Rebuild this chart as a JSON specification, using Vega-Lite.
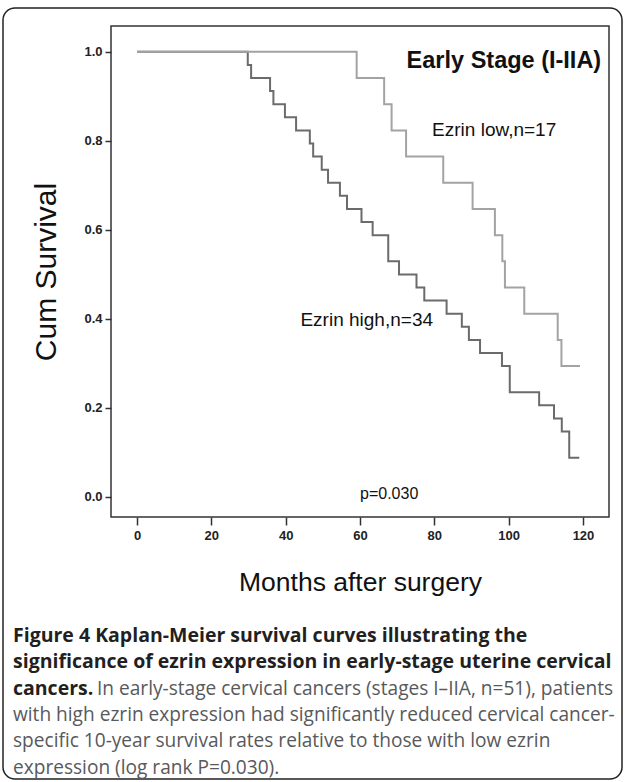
{
  "$schema": "https://vega.github.io/schema/vega-lite/v6.json",
  "width": 498,
  "height": 491,
  "autosize": {"type": "none"},
  "padding": {"left": 111, "top": 26, "right": 16, "bottom": 265},
  "background": "white",
  "config": {
    "view": {"stroke": "#333333", "strokeWidth": 1.5},
    "font": "Liberation Sans"
  },
  "datasets": {
    "km": [
      {"group": "high", "month": 0, "surv": 1},
      {"group": "high", "month": 29.8, "surv": 0.9706},
      {"group": "high", "month": 30.7, "surv": 0.9412},
      {"group": "high", "month": 35.8, "surv": 0.9118},
      {"group": "high", "month": 36.7, "surv": 0.8824},
      {"group": "high", "month": 39.8, "surv": 0.8529},
      {"group": "high", "month": 42.8, "surv": 0.8235},
      {"group": "high", "month": 46.5, "surv": 0.7941},
      {"group": "high", "month": 47.4, "surv": 0.7647},
      {"group": "high", "month": 49.7, "surv": 0.7353},
      {"group": "high", "month": 51.4, "surv": 0.7059},
      {"group": "high", "month": 54.6, "surv": 0.6765},
      {"group": "high", "month": 56.5, "surv": 0.6471},
      {"group": "high", "month": 60.4, "surv": 0.6176},
      {"group": "high", "month": 63.4, "surv": 0.5882},
      {"group": "high", "month": 67.6, "surv": 0.5294},
      {"group": "high", "month": 70.5, "surv": 0.5},
      {"group": "high", "month": 75.2, "surv": 0.4706},
      {"group": "high", "month": 77.3, "surv": 0.4412},
      {"group": "high", "month": 83.3, "surv": 0.4118},
      {"group": "high", "month": 87.4, "surv": 0.3824},
      {"group": "high", "month": 89.3, "surv": 0.3529},
      {"group": "high", "month": 92.3, "surv": 0.3235},
      {"group": "high", "month": 98.2, "surv": 0.2941},
      {"group": "high", "month": 100.3, "surv": 0.2353},
      {"group": "high", "month": 108.2, "surv": 0.2059},
      {"group": "high", "month": 112.2, "surv": 0.1765},
      {"group": "high", "month": 114.3, "surv": 0.1471},
      {"group": "high", "month": 116.3, "surv": 0.0882},
      {"group": "high", "month": 119.0, "surv": 0.0882},
      {"group": "low", "month": 0, "surv": 1},
      {"group": "low", "month": 59.1, "surv": 0.9412},
      {"group": "low", "month": 66.5, "surv": 0.8824},
      {"group": "low", "month": 68.5, "surv": 0.8235},
      {"group": "low", "month": 72.4, "surv": 0.7647},
      {"group": "low", "month": 82.4, "surv": 0.7059},
      {"group": "low", "month": 90.3, "surv": 0.6471},
      {"group": "low", "month": 96.3, "surv": 0.5882},
      {"group": "low", "month": 98.3, "surv": 0.5294},
      {"group": "low", "month": 99.0, "surv": 0.4706},
      {"group": "low", "month": 104.2, "surv": 0.4118},
      {"group": "low", "month": 113.2, "surv": 0.3529},
      {"group": "low", "month": 114.2, "surv": 0.2941},
      {"group": "low", "month": 119.2, "surv": 0.2941}
    ]
  },
  "layer": [
    {
      "data": {"values": [{"part": "card"}]},
      "mark": {"type": "rect", "filled": false, "stroke": "#222222", "strokeWidth": 1.5, "cornerRadius": 12},
      "encoding": {
        "x": {"datum": -36.06, "type": "quantitative"},
        "x2": {"datum": 130.5},
        "y": {"datum": 1.0984, "type": "quantitative"},
        "y2": {"datum": -0.6338}
      }
    },
    {
      "data": {"name": "km"},
      "mark": {"type": "line", "interpolate": "step-after", "strokeWidth": 2},
      "encoding": {
        "x": {
          "field": "month",
          "type": "quantitative",
          "scale": {"domain": [-7, 127], "nice": false, "zero": false},
          "axis": {
            "values": [0, 20, 40, 60, 80, 100, 120],
            "title": "Months after surgery",
            "titleFont": "Liberation Sans",
            "titleFontSize": 26.5,
            "titleFontWeight": "normal",
            "titleColor": "#111111",
            "titlePadding": 27,
            "labelFont": "Liberation Sans",
            "labelFontWeight": "bold",
            "labelFontSize": 13,
            "labelColor": "#222222",
            "labelPadding": 4,
            "tickSize": 8,
            "tickWidth": 1.5,
            "tickColor": "#333333",
            "domain": false,
            "grid": false
          }
        },
        "y": {
          "field": "surv",
          "type": "quantitative",
          "scale": {"domain": [-0.045, 1.058], "nice": false, "zero": false},
          "axis": {
            "values": [0, 0.2, 0.4, 0.6, 0.8, 1.0],
            "format": ".1f",
            "title": "Cum Survival",
            "titleFont": "Liberation Sans",
            "titleFontSize": 30,
            "titleFontWeight": "normal",
            "titleColor": "#111111",
            "titlePadding": 22,
            "labelFont": "Liberation Sans",
            "labelFontWeight": "bold",
            "labelFontSize": 13,
            "labelColor": "#222222",
            "labelPadding": 3,
            "tickSize": 6,
            "tickWidth": 1.5,
            "tickColor": "#333333",
            "domain": false,
            "grid": false
          }
        },
        "color": {
          "field": "group",
          "type": "nominal",
          "scale": {"domain": ["high", "low"], "range": ["#6b6b6b", "#a3a3a3"]},
          "legend": null
        }
      }
    },
    {
      "data": {"values": [{"label": "Early Stage (I-IIA)"}]},
      "mark": {"type": "text", "align": "right", "baseline": "alphabetic", "fontSize": 23.5, "fontWeight": "bold", "font": "Liberation Sans", "color": "#111111"},
      "encoding": {
        "x": {"datum": 124.9, "type": "quantitative"},
        "y": {"datum": 0.9636, "type": "quantitative"},
        "text": {"field": "label"}
      }
    },
    {
      "data": {"values": [{"label": "Ezrin low,n=17"}]},
      "mark": {"type": "text", "align": "left", "baseline": "alphabetic", "fontSize": 19, "font": "Liberation Sans", "color": "#111111"},
      "encoding": {
        "x": {"datum": 79.4, "type": "quantitative"},
        "y": {"datum": 0.811, "type": "quantitative"},
        "text": {"field": "label"}
      }
    },
    {
      "data": {"values": [{"label": "Ezrin high,n=34"}]},
      "mark": {"type": "text", "align": "right", "baseline": "alphabetic", "fontSize": 19, "font": "Liberation Sans", "color": "#111111"},
      "encoding": {
        "x": {"datum": 79.65, "type": "quantitative"},
        "y": {"datum": 0.384, "type": "quantitative"},
        "text": {"field": "label"}
      }
    },
    {
      "data": {"values": [{"label": "p=0.030"}]},
      "mark": {"type": "text", "align": "left", "baseline": "alphabetic", "fontSize": 16, "font": "Liberation Sans", "color": "#111111"},
      "encoding": {
        "x": {"datum": 60.0, "type": "quantitative"},
        "y": {"datum": -0.0047, "type": "quantitative"},
        "text": {"field": "label"}
      }
    },
    {
      "data": {"values": [{"label": ["Figure 4 Kaplan-Meier survival curves illustrating the", "significance of ezrin expression in early-stage uterine cervical", "cancers."]}]},
      "mark": {"type": "text", "align": "left", "baseline": "alphabetic", "fontSize": 19.5, "fontWeight": "bold", "font": "Open Sans", "lineHeight": 26.3, "color": "#231f20"},
      "encoding": {
        "x": {"datum": -33.37, "type": "quantitative"},
        "y": {"datum": -0.326, "type": "quantitative"},
        "text": {"field": "label"}
      }
    },
    {
      "data": {"values": [{"label": "In early-stage cervical cancers (stages I\u2013IIA, n=51), patients"}]},
      "mark": {"type": "text", "align": "left", "baseline": "alphabetic", "fontSize": 19.1, "font": "Open Sans", "color": "#58595b"},
      "encoding": {
        "x": {"datum": -10.77, "type": "quantitative"},
        "y": {"datum": -0.4441, "type": "quantitative"},
        "text": {"field": "label"}
      }
    },
    {
      "data": {"values": [{"label": ["with high ezrin expression had significantly reduced cervical cancer-", "specific 10-year survival rates relative to those with low ezrin", "expression (log rank P=0.030)."]}]},
      "mark": {"type": "text", "align": "left", "baseline": "alphabetic", "fontSize": 19.1, "font": "Open Sans", "lineHeight": 26.3, "color": "#58595b"},
      "encoding": {
        "x": {"datum": -33.37, "type": "quantitative"},
        "y": {"datum": -0.5032, "type": "quantitative"},
        "text": {"field": "label"}
      }
    }
  ]
}
